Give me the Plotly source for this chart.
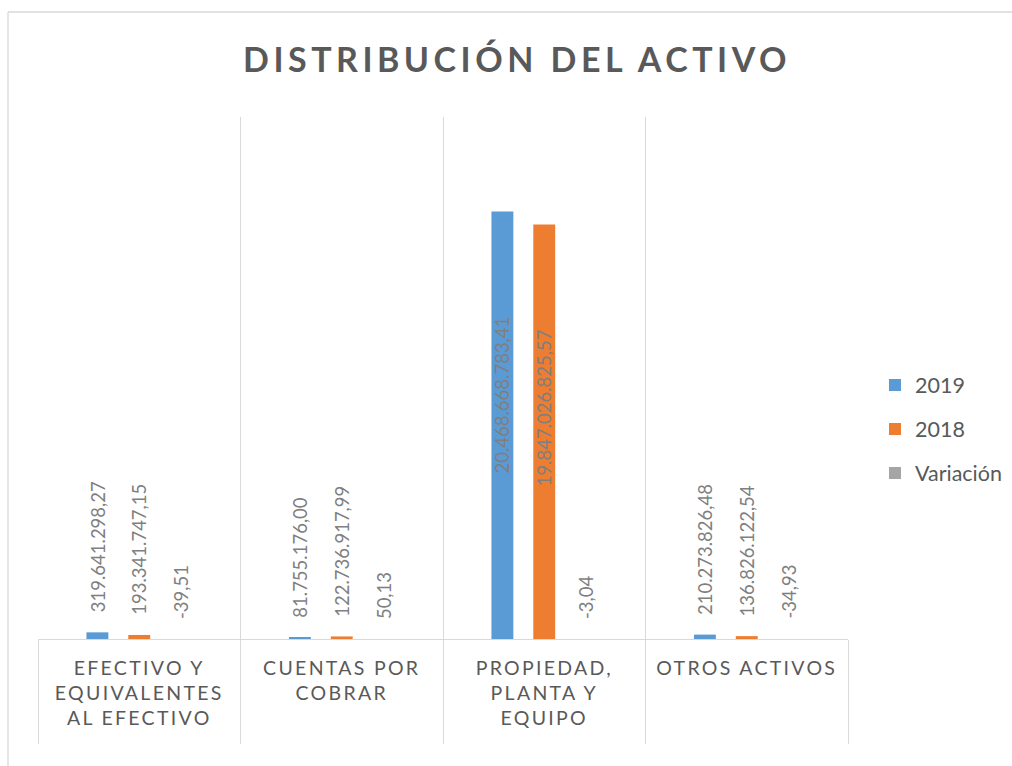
import plotly.graph_objects as go

# ---------------- data ----------------
categories = ["EFECTIVO Y EQUIVALENTES AL EFECTIVO", "CUENTAS POR COBRAR",
              "PROPIEDAD, PLANTA Y EQUIPO", "OTROS ACTIVOS"]
tick_labels = ["EFECTIVO Y<br>EQUIVALENTES<br>AL EFECTIVO", "CUENTAS POR<br>COBRAR",
               "PROPIEDAD,<br>PLANTA Y<br>EQUIPO", "OTROS ACTIVOS"]
series_names = ["2019", "2018", "Variación"]
values_2019 = [319641298.27, 81755176.00, 20468668783.41, 210273826.48]
values_2018 = [193341747.15, 122736917.99, 19847026825.57, 136826122.54]
values_var = [-39.51, 50.13, -3.04, -34.93]
labels_2019 = ["319.641.298,27", "81.755.176,00", "20.468.668.783,41", "210.273.826,48"]
labels_2018 = ["193.341.747,15", "122.736.917,99", "19.847.026.825,57", "136.826.122,54"]
labels_var = ["-39,51", "50,13", "-3,04", "-34,93"]
y_max = 25e9

# ---------------- style ----------------
W, H = 1012, 766
ML, MR, MT, MB = 38, 164, 117, 127
PW = W - ML - MR
PH = H - MT - MB
colors = ["#5B9BD5", "#ED7D31", "#A5A5A5"]
grid = "#D9D9D9"
txt = "#595959"
lbl = "#7F7F7F"
FONT = "Lato"
bargap = 0.38
bargroupgap = 0.476

series = [values_2019, values_2018, values_var]
series_labels = [labels_2019, labels_2018, labels_var]

fig = go.Figure()
for i, (name, vals) in enumerate(zip(series_names, series)):
    fig.add_trace(go.Bar(
        x=categories, y=vals, name=name, legendgroup=name,
        marker=dict(color=colors[i], line=dict(width=0)),
        hoverinfo="skip",
    ))

# data labels
slot_px = PW / len(categories) * (1 - bargap) / len(series)
annotations = []
for i, (vals, labs) in enumerate(zip(series, series_labels)):
    for c, v, t in zip(categories, vals, labs):
        inside = v > 0.5 * y_max
        annotations.append(dict(
            x=c, y=max(v, 0), xref="x", yref="y", text=t, showarrow=False,
            textangle=-90, xshift=(i - 1) * slot_px,
            yanchor="top" if inside else "bottom",
            yshift=-103 if inside else 18,
            font=dict(family=FONT, size=18.5, color=lbl),
        ))

# chart frame (top and left edges visible)
fx0 = (8 - ML) / PW
fy0 = (H - MB - 12) / PH
shapes = [
    dict(type="line", xref="paper", yref="paper", x0=fx0, x1=(W + 5 - ML) / PW, y0=fy0, y1=fy0,
         line=dict(color=grid, width=1.3)),
    dict(type="line", xref="paper", yref="paper", x0=fx0, x1=fx0, y0=fy0, y1=-(MB + 5) / PH,
         line=dict(color=grid, width=1.3)),
]

fig.update_layout(
    width=W, height=H,
    margin=dict(l=ML, r=MR, t=MT, b=MB, pad=0, autoexpand=False),
    paper_bgcolor="white", plot_bgcolor="white",
    barmode="group", bargap=bargap, bargroupgap=bargroupgap,
    title=dict(text="<b>DISTRIBUCIÓN DEL ACTIVO</b>", x=517 / W, xref="container",
               xanchor="center", y=1 - 60 / H, yref="container", yanchor="middle",
               font=dict(family=FONT, size=34, color=txt)),
    showlegend=True,
    legend=dict(x=(875 - ML) / PW, xanchor="left", y=(H - MB - 429) / PH, yanchor="middle",
                font=dict(family=FONT, size=21.5, color=txt), traceorder="grouped",
                tracegroupgap=13, itemclick=False, bgcolor="rgba(0,0,0,0)"),
    xaxis=dict(tickmode="array", tickvals=categories, ticktext=tick_labels, tickangle=0,
               tickson="boundaries", ticks="outside", ticklen=104, tickcolor=grid, tickwidth=1.3,
               showgrid=True, gridcolor=grid, gridwidth=1.3,
               showline=True, linecolor=grid, linewidth=1.3,
               tickfont=dict(family=FONT, size=19.5, color=txt),
               ticklabelstandoff=11, fixedrange=True),
    yaxis=dict(range=[0, y_max], visible=False, fixedrange=True),
    annotations=annotations,
    shapes=shapes,
)

post = """
document.body.style.margin = '0';
document.body.style.padding = '0';
var gd = document.getElementById('{plot_id}');
function spc(){
  gd.querySelectorAll('.gtitle').forEach(function(t){t.setAttribute('letter-spacing','4.5px');});
  gd.querySelectorAll('.xtick text').forEach(function(t){t.setAttribute('letter-spacing','2.3px');});
}
spc();
gd.on('plotly_afterplot', spc);
"""
fig.write_html("out.html", post_script=post, config={"displayModeBar": False})
